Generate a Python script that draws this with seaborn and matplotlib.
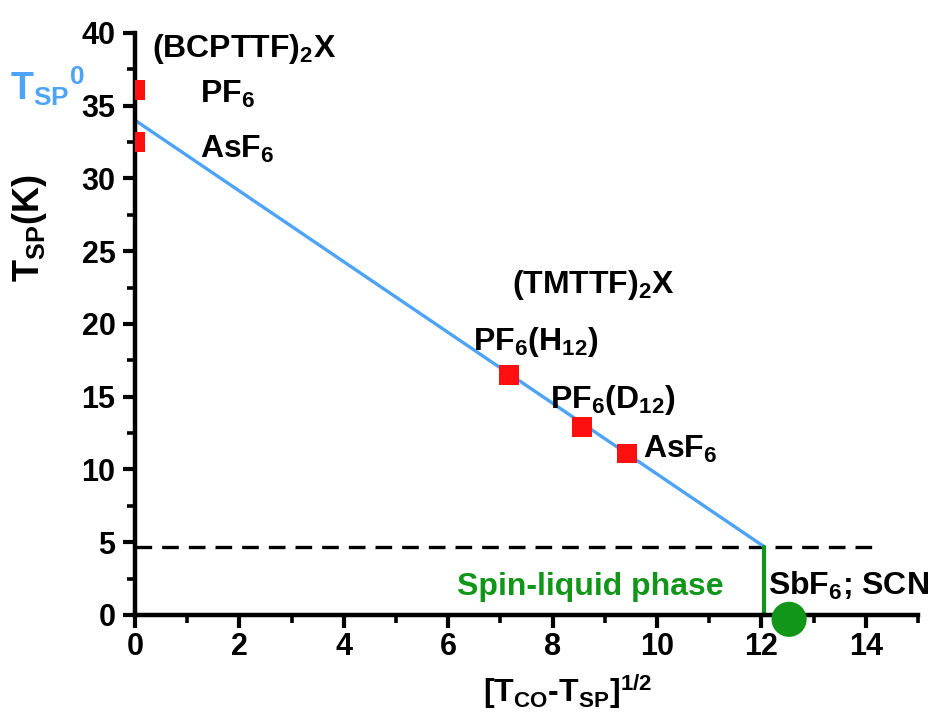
import matplotlib
matplotlib.use("Agg")
import matplotlib.pyplot as plt
from matplotlib.ticker import MultipleLocator
import seaborn as sns
import pandas as pd

# (BCPTTF)2X salts
bcp_x = [0.0, 0.0]
bcp_t = [36.1, 32.5]
bcp_names = ["PF$_6$", "AsF$_6$"]

# (TMTTF)2X salts
tm_x = [7.16, 8.56, 9.42]
tm_t = [16.5, 12.9, 11.1]
tm_names = ["PF$_6$(H$_{12}$)", "PF$_6$(D$_{12}$)", "AsF$_6$"]

# linear fit and phase boundary
fit_x = [0.0, 12.05]
fit_t = [34.0, 4.7]
boundary_t = 4.7
dash_x = [0.0, 14.2]

# spin-liquid salts
sl_x = [12.53]
sl_t = [-0.3]

BLUE = "#4da3f5"
GREEN = "#12961a"
RED = "#ff1010"

sns.set_style("ticks")
plt.rcParams.update({
    "font.family": ["Liberation Sans", "DejaVu Sans"],
    "font.weight": "bold",
    "text.color": "black",
    "axes.labelcolor": "black",
    "axes.edgecolor": "black",
    "xtick.color": "black",
    "ytick.color": "black",
    "mathtext.fontset": "custom",
    "mathtext.rm": "Liberation Sans:bold",
    "mathtext.it": "Liberation Sans:bold",
    "mathtext.bf": "Liberation Sans:bold",
})

fig = plt.figure(figsize=(9.3, 7.13), dpi=100)
ax = fig.add_axes([0.1452, 0.1375, 0.8419, 0.8163])

fit_df = pd.DataFrame({"x": fit_x, "t": fit_t})
sns.lineplot(data=fit_df, x="x", y="t", ax=ax, color=BLUE, lw=2.4, zorder=2)

ax.plot(dash_x, [boundary_t, boundary_t], ls=(0, (5, 3)), color="black", lw=2.4, zorder=1)
ax.plot([fit_x[1], fit_x[1]], [0, boundary_t], color=GREEN, lw=3, zorder=2)

pts = pd.DataFrame({"x": bcp_x + tm_x, "t": bcp_t + tm_t})
sns.scatterplot(data=pts, x="x", y="t", ax=ax, marker="s", s=200, color=RED,
                edgecolor="none", zorder=3)

sl_df = pd.DataFrame({"x": sl_x, "t": sl_t})
sns.scatterplot(data=sl_df, x="x", y="t", ax=ax, marker="o", s=640, color=GREEN,
                edgecolor="none", zorder=4, clip_on=False)

ax.set_xlim(0, 15)
ax.set_ylim(0, 40)
ax.xaxis.set_major_locator(MultipleLocator(2))
ax.xaxis.set_minor_locator(MultipleLocator(1))
ax.yaxis.set_major_locator(MultipleLocator(5))
ax.yaxis.set_minor_locator(MultipleLocator(2.5))

sns.despine(ax=ax)
for side in ("left", "bottom"):
    ax.spines[side].set_linewidth(3.2)
ax.tick_params(which="major", length=9, width=3, labelsize=22)
ax.tick_params(axis="x", which="major", pad=3)
ax.tick_params(axis="y", which="major", pad=5)
ax.tick_params(which="minor", length=6, width=2.6)
for lab in ax.get_xticklabels() + ax.get_yticklabels():
    lab.set_fontweight("bold")

ax.set_xlabel("[T$_{\\mathregular{CO}}$-T$_{\\mathregular{SP}}$]$^{\\mathregular{1/2}}$",
              fontsize=23, fontweight="bold")
ax.xaxis.set_label_coords(0.552, -0.098)
ax.set_ylabel("T$_{\\mathregular{SP}}$(K)", fontsize=26, fontweight="bold")
ax.yaxis.set_label_coords(-0.11, 0.665)

fs = 23
ax.text(0.33, 38.35, "(BCPTTF)$_2$X", fontsize=fs, va="baseline", ha="left")
ax.text(1.25, 35.2, bcp_names[0], fontsize=fs, va="baseline", ha="left")
ax.text(1.25, 31.4, bcp_names[1], fontsize=fs, va="baseline", ha="left")

ax.text(7.22, 22.1, "(TMTTF)$_2$X", fontsize=fs, va="baseline", ha="left")
label_pos = [(6.48, 18.2), (7.95, 14.2), (9.73, 10.8)]
for name, (lx, ly) in zip(tm_names, label_pos):
    ax.text(lx, ly, name, fontsize=fs, va="baseline", ha="left")

ax.text(6.17, 1.37, "Spin-liquid phase", fontsize=fs, color=GREEN, va="baseline", ha="left")
ax.text(12.13, 1.37, "SbF$_6$; SCN", fontsize=fs, va="baseline", ha="left", clip_on=False)

fig.text(0.011, 0.86, "T$_{\\mathregular{SP}}$$^{\\mathregular{0}}$", fontsize=27,
         color=BLUE, va="baseline", ha="left", fontweight="bold")

fig.savefig("out.png", dpi=100)
